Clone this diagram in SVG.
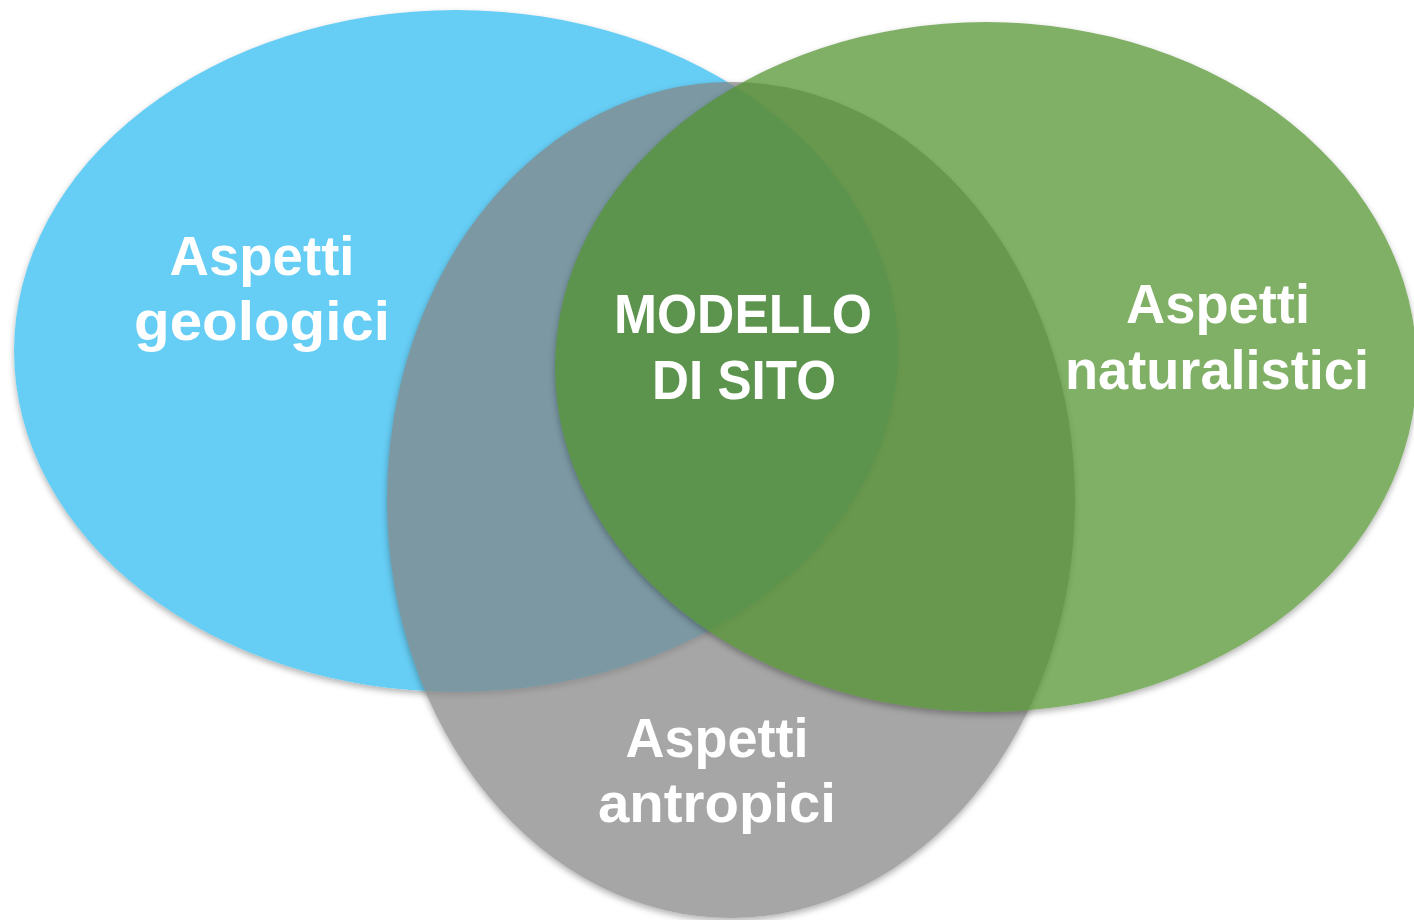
<svg xmlns="http://www.w3.org/2000/svg" width="1414" height="920" viewBox="0 0 1414 920">
  <defs>
    <filter id="shBlue" x="-5%" y="-5%" width="110%" height="112%" color-interpolation-filters="sRGB">
      <feGaussianBlur in="SourceAlpha" stdDeviation="3" result="b"/>
      <feOffset in="b" dy="3" result="o"/>
      <feComposite in="o" in2="SourceAlpha" operator="out" result="s"/>
      <feFlood flood-color="#000" flood-opacity="0.3"/>
      <feComposite in2="s" operator="in" result="shadow"/>
      <feMerge><feMergeNode in="shadow"/><feMergeNode in="SourceGraphic"/></feMerge>
    </filter>
    <filter id="shGray" x="-5%" y="-5%" width="110%" height="112%" color-interpolation-filters="sRGB">
      <feGaussianBlur in="SourceAlpha" stdDeviation="3" result="b"/>
      <feOffset in="b" dy="3" result="o"/>
      <feComposite in="o" in2="SourceAlpha" operator="out" result="s"/>
      <feFlood flood-color="#000" flood-opacity="0.3"/>
      <feComposite in2="s" operator="in" result="shadow"/>
      <feComponentTransfer in="SourceGraphic" result="g"><feFuncA type="linear" slope="0.72"/></feComponentTransfer>
      <feMerge><feMergeNode in="shadow"/><feMergeNode in="g"/></feMerge>
    </filter>
    <filter id="shGreen" x="-5%" y="-5%" width="110%" height="112%" color-interpolation-filters="sRGB">
      <feGaussianBlur in="SourceAlpha" stdDeviation="3" result="b"/>
      <feOffset in="b" dy="3" result="o"/>
      <feComposite in="o" in2="SourceAlpha" operator="out" result="s"/>
      <feFlood flood-color="#000" flood-opacity="0.3"/>
      <feComposite in2="s" operator="in" result="shadow"/>
      <feComponentTransfer in="SourceGraphic" result="g"><feFuncA type="linear" slope="0.73"/></feComponentTransfer>
      <feMerge><feMergeNode in="shadow"/><feMergeNode in="g"/></feMerge>
    </filter>
  </defs>
  <style>
    .lbl { font-family: "Liberation Sans", Arial, sans-serif; font-weight: bold; font-size: 56px; fill: #ffffff; text-anchor: middle; }
  </style>
  <rect width="1414" height="920" fill="#ffffff"/>
  <g id="geologici">
    <ellipse cx="456" cy="351" rx="442" ry="341" fill="#66CDF4" filter="url(#shBlue)"/>
  </g>
  <g id="antropici">
    <ellipse cx="731" cy="500" rx="344" ry="418" fill="#838383" filter="url(#shGray)"/>
  </g>
  <g id="naturalistici">
    <ellipse cx="986" cy="367" rx="431" ry="345" fill="#51912D" filter="url(#shGreen)"/>
  </g>
  <g id="connectors"></g>
  <g id="labels">
    <g id="label-geologici">
      <text class="lbl" x="262" y="275" textLength="185" lengthAdjust="spacingAndGlyphs">Aspetti</text>
      <text class="lbl" x="262" y="340" textLength="256" lengthAdjust="spacingAndGlyphs">geologici</text>
    </g>
    <g id="label-modello">
      <text class="lbl" x="743" y="333" textLength="258" lengthAdjust="spacingAndGlyphs">MODELLO</text>
      <text class="lbl" x="744" y="399" textLength="184" lengthAdjust="spacingAndGlyphs">DI SITO</text>
    </g>
    <g id="label-naturalistici">
      <text class="lbl" x="1218" y="323" textLength="184" lengthAdjust="spacingAndGlyphs">Aspetti</text>
      <text class="lbl" x="1217" y="389" textLength="304" lengthAdjust="spacingAndGlyphs">naturalistici</text>
    </g>
    <g id="label-antropici">
      <text class="lbl" x="717" y="757" textLength="183" lengthAdjust="spacingAndGlyphs">Aspetti</text>
      <text class="lbl" x="717" y="822" textLength="238" lengthAdjust="spacingAndGlyphs">antropici</text>
    </g>
  </g>
</svg>
